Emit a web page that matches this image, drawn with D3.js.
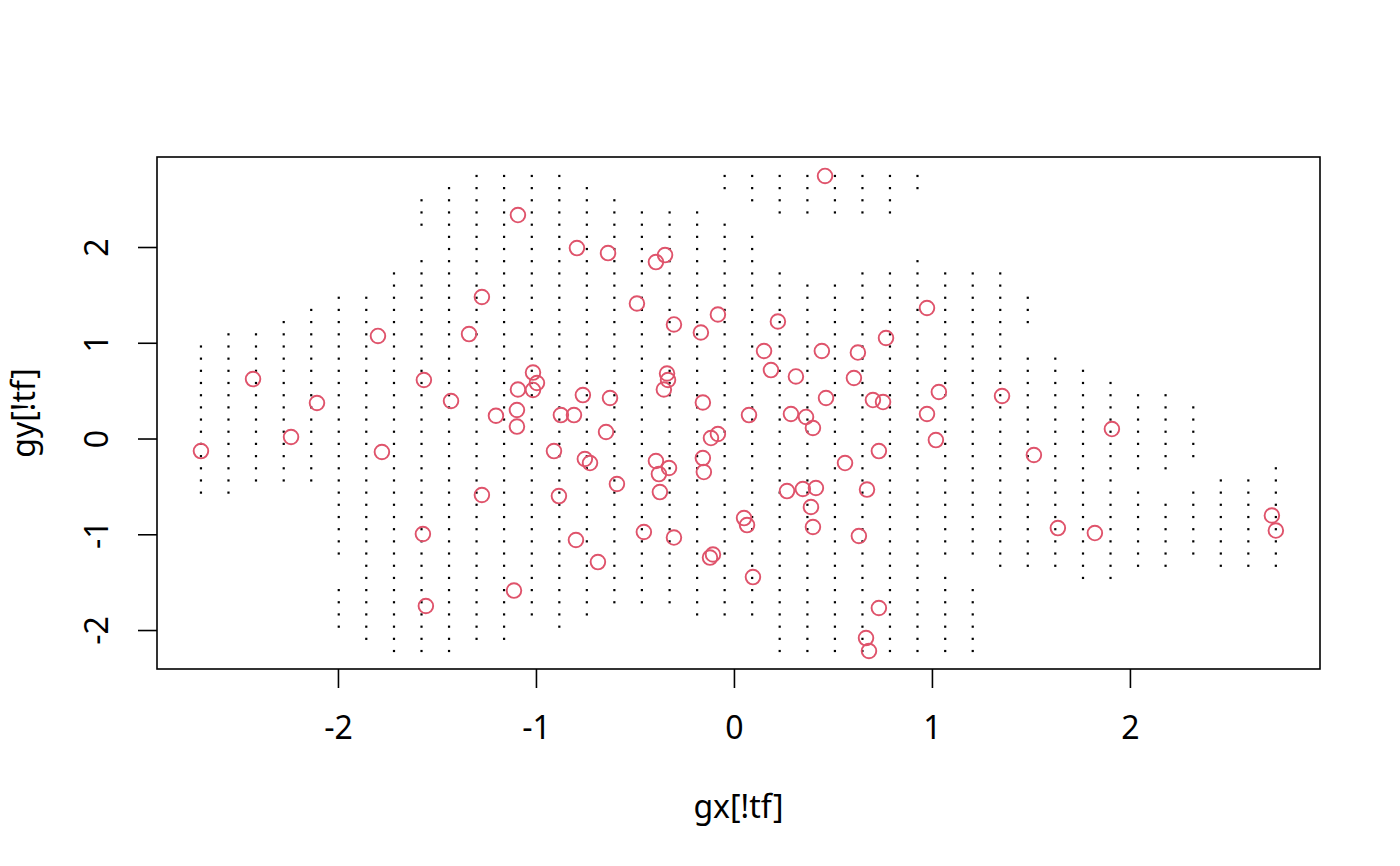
<!DOCTYPE html>
<html>
<head>
<meta charset="utf-8">
<script src="https://cdn.jsdelivr.net/npm/d3@7"></script>
<style>
  body { margin: 0; background: #fff; }
  svg text { font-family: "Noto Sans", sans-serif; font-size: 32px; fill: #000; }
</style>
</head>
<body>
<script>
// grid levels (seq from min to max of the data, 40 each)
var gx = [-2.692, -2.553, -2.414, -2.274, -2.135, -1.996, -1.857, -1.717, -1.578, -1.439,
  -1.300, -1.161, -1.021, -0.882, -0.743, -0.604, -0.465, -0.325, -0.186, -0.047,
  0.092, 0.231, 0.371, 0.510, 0.649, 0.788, 0.927, 1.067, 1.206, 1.345,
  1.484, 1.623, 1.763, 1.902, 2.041, 2.180, 2.320, 2.459, 2.598, 2.737];
var gy = [-2.219, -2.092, -1.965, -1.837, -1.710, -1.583, -1.456, -1.329, -1.201, -1.074,
  -0.947, -0.820, -0.692, -0.565, -0.438, -0.311, -0.184, -0.056, 0.071, 0.198,
  0.325, 0.452, 0.580, 0.707, 0.834, 0.961, 1.088, 1.216, 1.343, 1.470,
  1.597, 1.724, 1.852, 1.979, 2.106, 2.233, 2.361, 2.488, 2.615, 2.742];

// for each gx column: runs of gy indices (inclusive) that are !tf
var keepRuns = [
  [[13, 25]], [[13, 26]], [[14, 26]], [[14, 27]], [[14, 28]],
  [[2, 5], [8, 29]], [[1, 29]], [[0, 31]], [[0, 32], [35, 37]], [[0, 38]],
  [[1, 39]], [[1, 39]], [[3, 39]], [[2, 39]], [[3, 38]],
  [[4, 37]], [[4, 36]], [[4, 36]], [[3, 36]], [[3, 35], [38, 39]],
  [[3, 34], [37, 39]], [[0, 31], [36, 39]], [[0, 30], [36, 39]], [[0, 30], [36, 39]], [[0, 31], [36, 39]],
  [[0, 31], [36, 39]], [[0, 32], [38, 39]], [[0, 6], [8, 31]], [[0, 5], [8, 31]], [[7, 31]],
  [[7, 24], [27, 29]], [[7, 24]], [[6, 23]], [[6, 22]], [[7, 13], [15, 21]],
  [[7, 12], [15, 21]], [[8, 13], [16, 20]], [[7, 14]], [[7, 14]], [[7, 15]]
];

// observed points
var px = [-2.692, -2.429, -2.237, -2.106, -1.798, -1.778, -1.566, -1.571, -1.556, -1.429,
  -1.338, -1.273, -1.273, -1.202, -1.091, -1.091, -1.096, -1.096, -1.111, -1.015,
  -1.015, -0.995, -0.909, -0.884, -0.874, -0.808, -0.793, -0.798, -0.763, -0.753,
  -0.727, -0.687, -0.636, -0.626, -0.646, -0.591, -0.490, -0.455, -0.394, -0.394,
  -0.379, -0.374, -0.348, -0.354, -0.338, -0.333, -0.328, -0.303, -0.303, -0.167,
  -0.157, -0.157, -0.152, -0.121, -0.106, -0.116, -0.081, -0.081, 0.051, 0.066,
  0.076, 0.096, 0.152, 0.187, 0.222, 0.268, 0.288, 0.313, 0.348, 0.364,
  0.389, 0.399, 0.399, 0.414, 0.444, 0.460, 0.465, 0.561, 0.606, 0.626,
  0.631, 0.667, 0.672, 0.682, 0.702, 0.732, 0.732, 0.753, 0.768, 0.975,
  0.975, 1.020, 1.035, 1.354, 1.515, 1.636, 1.823, 1.909, 2.717, 2.737];
var py = [-0.131, 0.621, 0.016, 0.371, 1.071, -0.141, 0.611, -0.997, -1.749, 0.392,
  1.091, 1.478, -0.590, 0.238, 2.334, 0.512, 0.298, 0.125, -1.588, 0.689,
  0.507, 0.580, -0.131, -0.601, 0.245, 0.245, 1.989, -1.060, 0.454, -0.214,
  -0.256, -1.290, 1.937, 0.423, 0.068, -0.475, 1.410, -0.976, 1.843, -0.235,
  -0.371, -0.559, 1.916, 0.512, 0.679, 0.611, -0.308, 1.191, -1.034, 1.107,
  0.376, -0.204, -0.350, -1.243, -1.211, 0.005, 0.047, 1.295, -0.831, -0.904,
  0.245, -1.447, 0.914, 0.715, 1.222, -0.549, 0.256, 0.648, -0.527, 0.225,
  -0.715, 0.110, -0.924, -0.517, 0.914, 2.742, 0.423, -0.256, 0.632, 0.898,
  -1.018, -2.084, -0.533, -2.219, 0.402, -0.131, -1.770, 0.381, 1.050, 1.363,
  0.256, -0.016, 0.486, 0.444, -0.172, -0.935, -0.987, 0.099, -0.804, -0.961];

var xTicks = [-2, -1, 0, 1, 2];
var yTicks = [-2, -1, 0, 1, 2];

var width = 1400,
  height = 866;
var plotL = 157, plotR = 1320, plotT = 157, plotB = 669;

var x = d3.scaleLinear().domain([-2.914, 2.960]).range([plotL, plotR]);
var y = d3.scaleLinear().domain([-2.407, 2.940]).range([plotB, plotT]);

var svg = d3
  .select("body")
  .append("svg")
  .attr("width", width)
  .attr("height", height);

// grid points that survived
var grid = [];
keepRuns.forEach(function(runs, i) {
  runs.forEach(function(r) {
    for (var j = r[0]; j <= r[1]; j++) grid.push([gx[i], gy[j]]);
  });
});

svg
  .append("g")
  .selectAll("rect")
  .data(grid)
  .join("rect")
  .attr("x", d => x(d[0]) - 1.1)
  .attr("y", d => y(d[1]) - 1.1)
  .attr("width", 2.2)
  .attr("height", 2.2)
  .attr("fill", "#000");

svg
  .append("g")
  .selectAll("circle")
  .data(px.map((v, i) => [v, py[i]]))
  .join("circle")
  .attr("cx", d => x(d[0]))
  .attr("cy", d => y(d[1]))
  .attr("r", 7.3)
  .attr("fill", "none")
  .attr("stroke", "#DF536B")
  .attr("stroke-width", 1.9);

// axes
var xAxis = svg
  .append("g")
  .attr("transform", "translate(0," + plotB + ")")
  .call(
    d3.axisBottom(x)
      .tickValues(xTicks)
      .tickFormat(d => String(d))
      .tickSize(19)
      .tickPadding(28)
  );
xAxis.select(".domain").remove();
xAxis.selectAll("line").attr("stroke", "#000").attr("stroke-width", 1.6);
xAxis.selectAll("text")
  .style("font-family", "'Noto Sans', sans-serif")
  .style("font-size", "32px")
  .attr("fill", "#000");

var yAxis = svg
  .append("g")
  .attr("transform", "translate(" + plotL + ",0)")
  .call(
    d3.axisLeft(y)
      .tickValues(yTicks)
      .tickFormat(d => String(d))
      .tickSize(19)
  );
yAxis.select(".domain").remove();
yAxis.selectAll("line").attr("stroke", "#000").attr("stroke-width", 1.6);
yAxis.selectAll("text")
  .attr("transform", "rotate(-90)")
  .attr("x", 0)
  .attr("y", -49)
  .attr("dy", null)
  .attr("text-anchor", "middle")
  .style("font-family", "'Noto Sans', sans-serif")
  .style("font-size", "32px")
  .attr("fill", "#000");

// box
svg
  .append("rect")
  .attr("x", plotL)
  .attr("y", plotT)
  .attr("width", plotR - plotL)
  .attr("height", plotB - plotT)
  .attr("fill", "none")
  .attr("stroke", "#000")
  .attr("stroke-width", 1.6);

// axis titles
svg
  .append("text")
  .attr("x", (plotL + plotR) / 2)
  .attr("y", 818)
  .attr("text-anchor", "middle")
  .text("gx[!tf]");

svg
  .append("text")
  .attr("transform", "translate(35," + (plotT + plotB) / 2 + ") rotate(-90)")
  .attr("text-anchor", "middle")
  .text("gy[!tf]");
</script>
</body>
</html>
